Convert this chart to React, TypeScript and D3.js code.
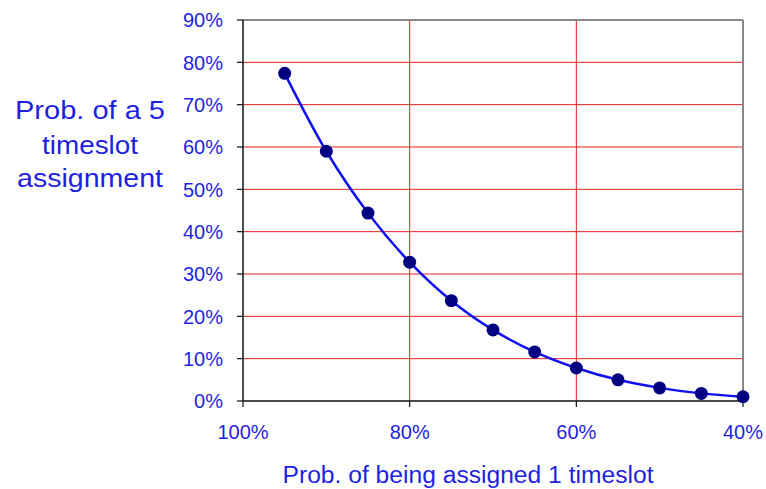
import React from "react";
import * as d3 from "d3";

const xValues = [0.95, 0.9, 0.85, 0.8, 0.75, 0.7, 0.65, 0.6, 0.55, 0.5, 0.45, 0.4];
const yValues = [0.774, 0.59, 0.444, 0.328, 0.237, 0.168, 0.116, 0.078, 0.05, 0.031, 0.018, 0.01];
const yTicks = [0, 0.1, 0.2, 0.3, 0.4, 0.5, 0.6, 0.7, 0.8, 0.9];
const xTicks = [1.0, 0.8, 0.6, 0.4];
const yTitleLines = ["Prob. of a 5", "timeslot", "assignment"];
const xTitle = "Prob. of being assigned 1 timeslot";

export default function App() {
  const W = 766, H = 489;
  const left = 243, right = 743, top = 20, bottom = 401;
  const x = d3.scaleLinear().domain([1.0, 0.4]).range([left, right]);
  const y = d3.scaleLinear().domain([0, 0.9]).range([bottom, top]);
  const pts = xValues.map((v, i) => [x(v), y(yValues[i])] as [number, number]);
  const line = d3.line().curve(d3.curveCatmullRom.alpha(0.5))(pts) || "";
  const textColor = "#1f1fe0";
  const font = "Arial, 'Liberation Sans', sans-serif";
  const fmt = d3.format(".0%");
  const yTitleBase = [119, 154, 187];
  const yTitleLen = [150, 96, 146];
  return (
    <svg width={W} height={H} style={{ position: "absolute", left: 0, top: 0, background: "#fff" }}>
      {yTicks.filter(t => t > 0 && t < 0.9).map(t => (
        <line key={"hg" + t} x1={left} x2={right} y1={y(t)} y2={y(t)} stroke="#e02020" strokeWidth={1} />
      ))}
      {xTicks.filter(t => t < 1 && t > 0.4).map(t => (
        <line key={"vg" + t} x1={x(t)} x2={x(t)} y1={top} y2={bottom} stroke="#e02020" strokeWidth={1} />
      ))}
      <line x1={left} x2={right} y1={top} y2={top} stroke="#888" strokeWidth={2} />
      <line x1={right} x2={right} y1={top} y2={bottom} stroke="#888" strokeWidth={2} />
      <line x1={left} x2={left} y1={top} y2={bottom} stroke="#111" strokeWidth={1.5} />
      <line x1={left} x2={right} y1={bottom} y2={bottom} stroke="#111" strokeWidth={1.5} />
      {yTicks.map(t => (
        <g key={"yt" + t}>
          <line x1={left - 6} x2={left} y1={y(t)} y2={y(t)} stroke="#111" strokeWidth={1.2} />
          <text x={223} y={y(t)} dy="0.36em" textAnchor="end" fontFamily={font} fontSize={20} fill={textColor}>{fmt(t)}</text>
        </g>
      ))}
      {xTicks.map(t => (
        <g key={"xt" + t}>
          <line x1={x(t)} x2={x(t)} y1={bottom} y2={bottom + 6} stroke="#111" strokeWidth={1.2} />
          <text x={x(t)} y={439} textAnchor="middle" fontFamily={font} fontSize={20} fill={textColor}>{fmt(t)}</text>
        </g>
      ))}
      <path d={line} fill="none" stroke="#1010f0" strokeWidth={2.5} />
      {pts.map((p, i) => (
        <circle key={"c" + i} cx={p[0]} cy={p[1]} r={6.5} fill="#000080" />
      ))}
      {yTitleLines.map((s, i) => (
        <text key={"yl" + i} x={90} y={yTitleBase[i]} textAnchor="middle" fontFamily={font} fontSize={26}
          textLength={yTitleLen[i]} lengthAdjust="spacingAndGlyphs" fill={textColor}>{s}</text>
      ))}
      <text x={468} y={483} textAnchor="middle" fontFamily={font} fontSize={23}
        textLength={371} lengthAdjust="spacingAndGlyphs" fill={textColor}>{xTitle}</text>
    </svg>
  );
}
